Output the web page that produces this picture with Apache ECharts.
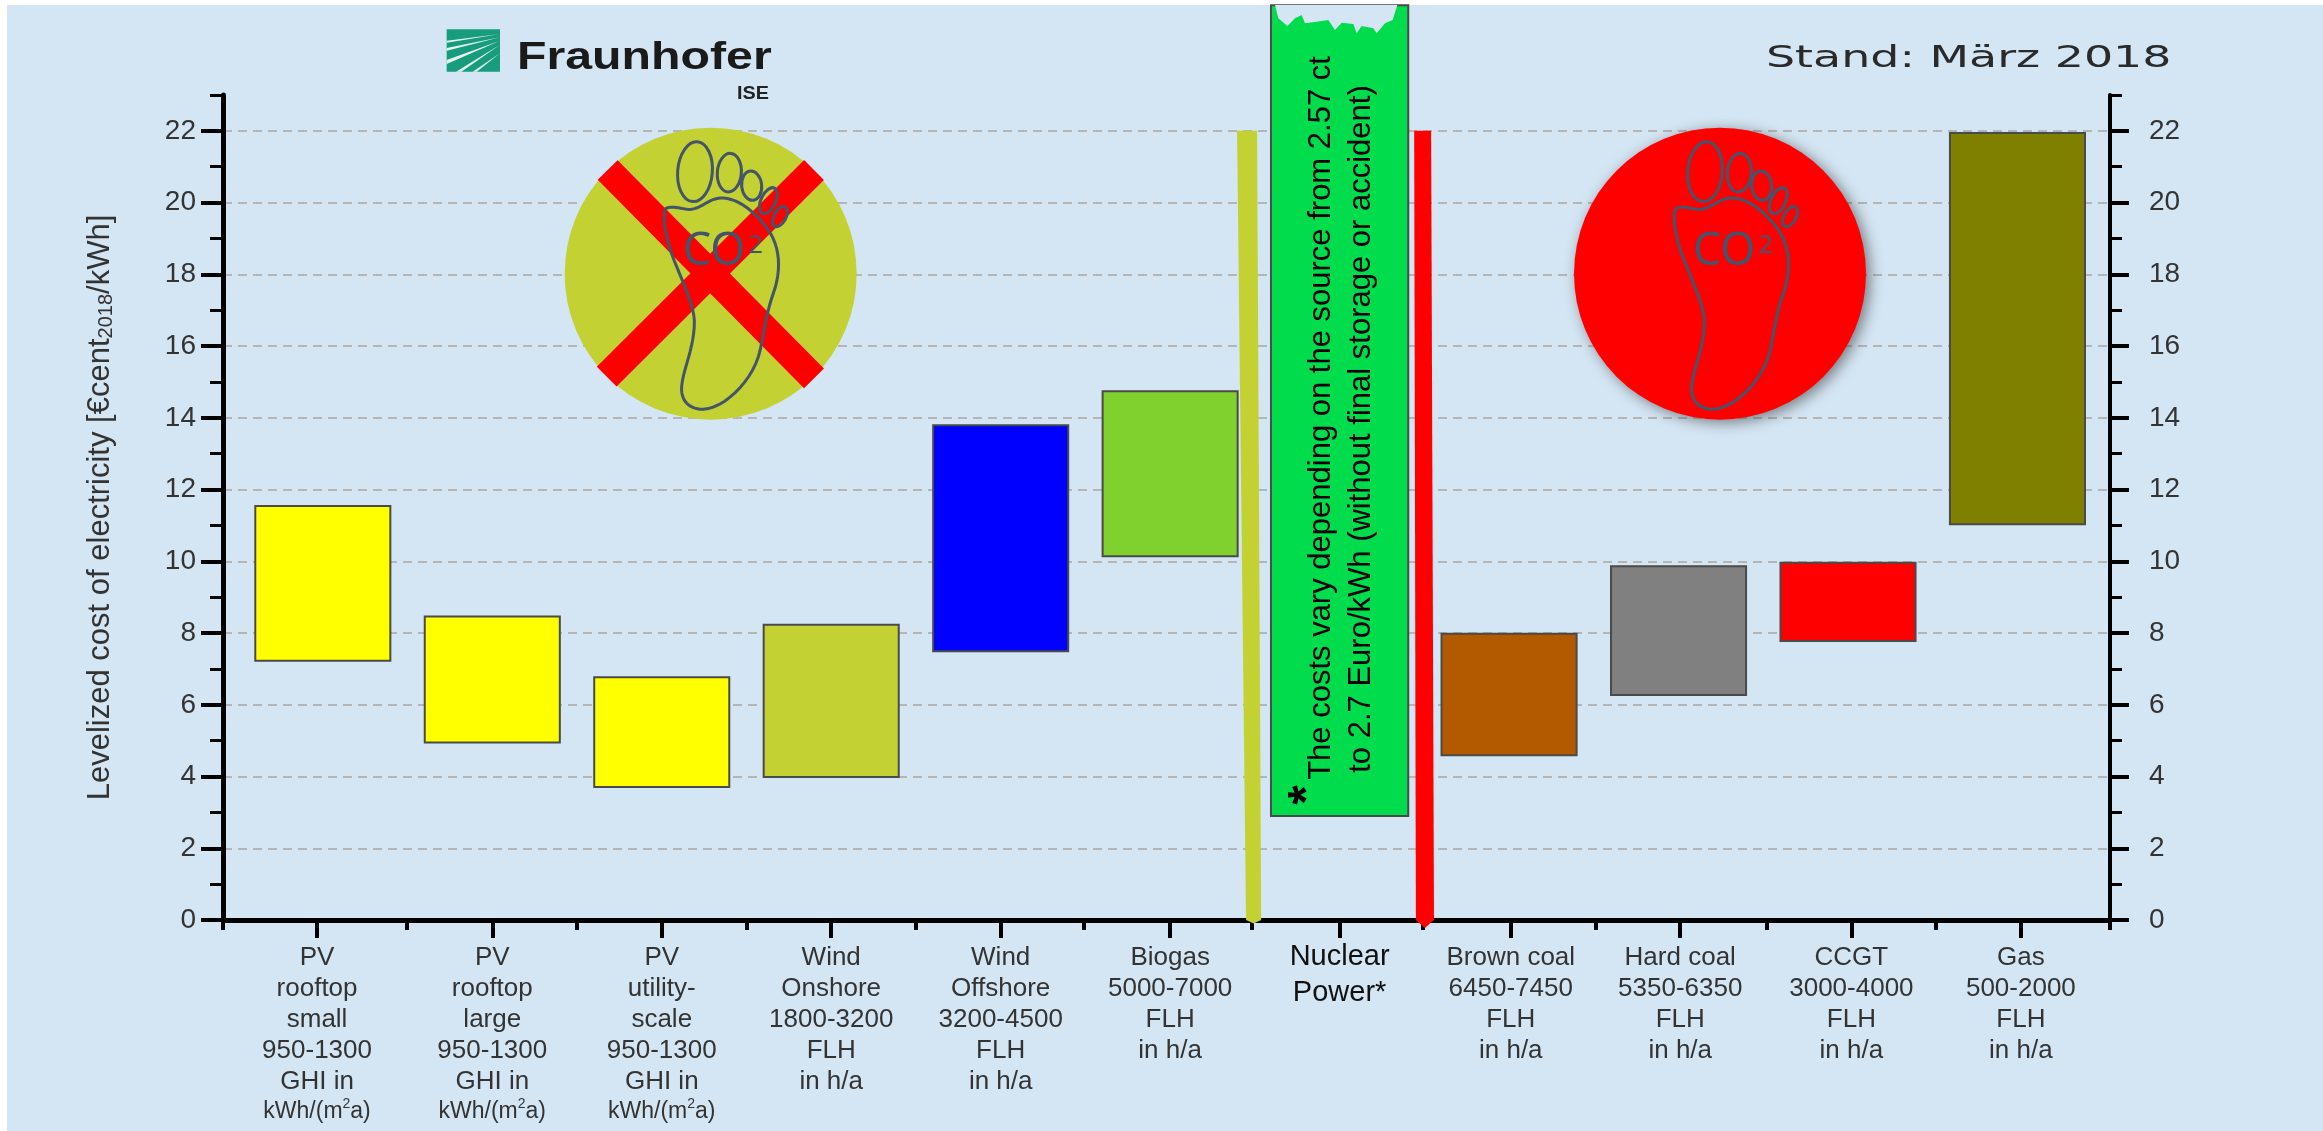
<!DOCTYPE html>
<html>
<head>
<meta charset="utf-8">
<title>Levelized cost of electricity 2018</title>
<script src="https://cdn.jsdelivr.net/npm/echarts@6/dist/echarts.min.js"></script>
<style>
  html, body { margin: 0; padding: 0; background: #ffffff; overflow: hidden; }
  #panel { position: absolute; left: 7px; top: 5px; right: 0; bottom: 0; background: #d4e5f3; }
  #chart { position: absolute; left: 0; top: 0; width: 2323px; height: 1131px; }
</style>
</head>
<body>
<div id="panel"></div>
<div id="chart"></div>
<script>
// Technologies along the horizontal axis
const categories = [
  'PV\nrooftop\nsmall\n950-1300\nGHI in\n{u|kWh/(m}{s|2}{u|a)}',
  'PV\nrooftop\nlarge\n950-1300\nGHI in\n{u|kWh/(m}{s|2}{u|a)}',
  'PV\nutility-\nscale\n950-1300\nGHI in\n{u|kWh/(m}{s|2}{u|a)}',
  'Wind\nOnshore\n1800-3200\nFLH\nin h/a',
  'Wind\nOffshore\n3200-4500\nFLH\nin h/a',
  'Biogas\n5000-7000\nFLH\nin h/a',
  '{n1|Nuclear}\n{n2|Power*}',
  'Brown coal\n6450-7450\nFLH\nin h/a',
  'Hard coal\n5350-6350\nFLH\nin h/a',
  'CCGT\n3000-4000\nFLH\nin h/a',
  'Gas\n500-2000\nFLH\nin h/a'
];

// Cost range of each technology in euro cents per kWh
const lowValues  = [7.23, 4.95, 3.71, 3.99, 7.49, 10.14, 2.90, 4.59, 6.27, 7.78, 11.03];
const highValues = [11.54, 8.46, 6.77, 8.23, 13.79, 14.74, 25.5, 7.98, 9.86, 9.96, 21.94];
const barColors  = ['#ffff00', '#ffff00', '#ffff00', '#c3d133', '#0000ff', '#80d02e',
                    '#00dc4b', '#b35a00', '#808080', '#ff0000', '#808000'];

const majorLeftTicks = [0, 2, 4, 6, 8, 10, 12, 14, 16, 18, 20, 22];
const minorLeftTicks = [1, 3, 5, 7, 9, 11, 13, 15, 17, 19, 21, 23];
const categoryTicks  = [-0.034, 1, 2, 3, 4, 5, 6, 7.01, 8.01, 9.02, 10.02];
const boundaryTicks  = [-0.589, 0.497, 1.496, 2.5, 3.496, 4.49, 5.48, 6.49, 7.51, 8.52, 9.52, 10.546];

// Divider strips between the low-carbon group, nuclear and the fossil group
const dividerTopEdges    = [[5.395, 5.513], [6.44, 6.54]];
const dividerBottomEdges = [[5.448, 5.537], [6.45, 6.557]];
const dividerColors      = ['#c3d133', '#ff0000'];
const dividerTop = 22;
const dividerTips = [-0.1, -0.22];

const INK = '#333333';
const FOOT = '#44546a';
const PANEL = '#d4e5f3';

// Flattens a chain of cubic segments into polygon vertices
function flatten(start, segments) {
  const pts = [start];
  let p0 = start;
  segments.forEach(([c1, c2, p3]) => {
    for (let k = 1; k <= 12; k++) {
      const t = k / 12, u = 1 - t;
      pts.push([
        u * u * u * p0[0] + 3 * u * u * t * c1[0] + 3 * u * t * t * c2[0] + t * t * t * p3[0],
        u * u * u * p0[1] + 3 * u * u * t * c1[1] + 3 * u * t * t * c2[1] + t * t * t * p3[1]
      ]);
    }
    p0 = p3;
  });
  return pts;
}

const soleOutline = flatten([318, 265], [
  [[340, 255], [370, 270], [395, 268]],
  [[430, 262], [450, 232], [490, 234]],
  [[540, 238], [590, 280], [625, 330]],
  [[660, 380], [665, 450], [640, 520]],
  [[615, 590], [610, 660], [595, 710]],
  [[570, 790], [490, 865], [430, 868]],
  [[385, 868], [362, 840], [365, 800]],
  [[368, 750], [405, 680], [403, 600]],
  [[400, 540], [340, 430], [325, 370]],
  [[312, 320], [308, 280], [318, 265]]
]);

// Footprint with the CO2 label, drawn at 3x and scaled down by its group
function footprint() {
  const line = { stroke: FOOT, lineWidth: 9, fill: 'none' };
  const toe = (x, y, rx, ry, rot) => ({
    type: 'ellipse', x, y, rotation: rot, shape: { cx: 0, cy: 0, rx, ry }, style: line
  });
  return [
    { type: 'polygon', shape: { points: soleOutline }, style: line },
    toe(405, 155, 52, 90, -0.08),
    toe(508, 158, 36, 58, -0.08),
    toe(575, 197, 30, 44, 0.1),
    toe(625, 242, 22, 42, -0.45),
    toe(660, 290, 18, 33, -0.5),
    { type: 'text', style: { text: 'CO', x: 462, y: 398, align: 'center', verticalAlign: 'middle',
        font: '135px "Noto Sans"', fill: FOOT } },
    { type: 'text', style: { text: '2', x: 587, y: 378, align: 'center', verticalAlign: 'middle',
        font: '76px "Noto Sans"', fill: FOOT } }
  ];
}

const crossColor = '#ff0000';
const graphicElements = [
  // Low-carbon badge: crossed-out footprint
  {
    type: 'group', x: 560, y: 120, scaleX: 1 / 3, scaleY: 1 / 3,
    children: [
      { type: 'circle', shape: { cx: 452, cy: 461, r: 438 }, style: { fill: '#c3d133' } },
      { type: 'line', shape: { x1: 143, y1: 150, x2: 762, y2: 775 }, style: { stroke: crossColor, lineWidth: 84 } },
      { type: 'line', shape: { x1: 140, y1: 770, x2: 762, y2: 150 }, style: { stroke: crossColor, lineWidth: 84 } }
    ].concat(footprint())
  },
  // Fossil badge: plain footprint on red
  {
    type: 'group', x: 1570, y: 120, scaleX: 1 / 3, scaleY: 1 / 3,
    children: [
      { type: 'circle', shape: { cx: 450, cy: 461, r: 438 },
        style: { fill: '#ff0000', shadowBlur: 14, shadowColor: 'rgba(40,40,40,0.55)', shadowOffsetX: 4, shadowOffsetY: 3 } }
    ].concat(footprint())
  },
  // Institute logo
  {
    type: 'group', x: 430, y: 20, scaleX: 1 / 3, scaleY: 1 / 3,
    children: [
      { type: 'rect', shape: { x: 50, y: 28, width: 160, height: 127 }, style: { fill: '#179c7d' } },
      { type: 'polygon', shape: { points: [[210, 42], [50, 62], [50, 68]] }, style: { fill: '#e6f3ef' } },
      { type: 'polygon', shape: { points: [[210, 52], [50, 84], [50, 92]] }, style: { fill: '#e6f3ef' } },
      { type: 'polygon', shape: { points: [[210, 62], [50, 120], [50, 132]] }, style: { fill: '#e6f3ef' } },
      { type: 'polygon', shape: { points: [[210, 74], [78, 155], [94, 155]] }, style: { fill: '#e6f3ef' } },
      { type: 'polygon', shape: { points: [[210, 100], [128, 155], [140, 155]] }, style: { fill: '#e6f3ef' } }
    ]
  },
  { type: 'text', x: 517, y: 59, scaleX: 1.27,
    style: { text: 'Fraunhofer', align: 'left', verticalAlign: 'middle', font: 'bold 38px "Liberation Sans"', fill: '#1a1a1a' } },
  { type: 'text', x: 737, y: 94, scaleX: 1.1,
    style: { text: 'ISE', align: 'left', verticalAlign: 'middle', font: 'bold 18px "Liberation Sans"', fill: '#222222' } },
  { type: 'text', x: 1766, y: 59, scaleX: 1.48,
    style: { text: 'Stand: März 2018', align: 'left', verticalAlign: 'middle', font: '31px "DejaVu Sans"', fill: '#2a2a2a' } },
  // Frayed upper edge of the nuclear bar
  {
    type: 'group', x: 1200, y: 0, scaleX: 1 / 3, scaleY: 1 / 3,
    children: [{
      type: 'polygon',
      shape: { points: [[225, 15], [235, 55], [262, 78], [285, 55], [305, 45], [315, 70], [350, 65], [385, 60],
        [405, 90], [425, 68], [460, 72], [470, 100], [485, 78], [520, 85], [530, 100], [555, 70], [578, 60], [592, 15]] },
      style: { fill: PANEL }
    }]
  },
  // Note running up the nuclear bar
  { type: 'text', x: 1321, y: 418, rotation: Math.PI / 2,
    style: { text: 'The costs vary depending on the source from 2.57 ct', align: 'center', verticalAlign: 'middle',
      font: '31px "Liberation Sans"', fill: '#000000' } },
  { type: 'text', x: 1361, y: 429, rotation: Math.PI / 2,
    style: { text: 'to 2.7 Euro/kWh (without final storage or accident)', align: 'center', verticalAlign: 'middle',
      font: '31px "Liberation Sans"', fill: '#000000' } },
  { type: 'text', x: 1309, y: 795, rotation: Math.PI / 2,
    style: { text: '*', align: 'center', verticalAlign: 'middle', font: 'bold 50px "Liberation Sans"', fill: '#000000' } }
];

// Lifts every decoration above the series, group children included
function raise(el) {
  el.z = 20;
  (el.children || []).forEach(raise);
}
graphicElements.forEach(raise);

const xRange = { min: -0.589, max: 10.546 };
const yRange = { min: 0, max: 23 };

const barRows = categories.map((c, i) => [i, lowValues[i], highValues[i]]);
const dividerRows = dividerColors.map((c, i) => [i]);

const option = {
  animation: false,
  backgroundColor: 'transparent',
  grid: { left: 223, right: 213, top: 95, bottom: 211 },
  textStyle: { fontFamily: '"Liberation Sans"' },
  xAxis: [
    {
      type: 'value', ...xRange, position: 'bottom', splitLine: { show: false },
      axisLine: { onZero: false, lineStyle: { color: '#000', width: 5 } },
      axisTick: { length: 18, customValues: categoryTicks, lineStyle: { color: '#000', width: 4 } },
      axisLabel: {
        customValues: categoryTicks, margin: 22, color: INK, fontSize: 26, lineHeight: 31,
        showMinLabel: true, showMaxLabel: true, hideOverlap: false, align: 'center', verticalAlign: 'top',
        formatter: v => categories[Math.round(v)] || '',
        rich: {
          u: { fontSize: 23, lineHeight: 29, color: INK },
          s: { fontSize: 14, lineHeight: 29, color: INK, verticalAlign: 'top', padding: [0, 0, 8, 0] },
          n1: { fontSize: 29, lineHeight: 29, color: '#111111' },
          n2: { fontSize: 29, lineHeight: 44, color: '#111111' }
        }
      }
    },
    {
      type: 'value', ...xRange, position: 'bottom', splitLine: { show: false },
      axisLine: { show: false, onZero: false },
      axisTick: { length: 10, customValues: boundaryTicks, lineStyle: { color: '#000', width: 4 } },
      axisLabel: { show: false }
    }
  ],
  yAxis: [
    {
      type: 'value', ...yRange, position: 'left',
      axisLine: { show: true, onZero: false, lineStyle: { color: '#000', width: 5 } },
      axisTick: { show: true, length: 22, customValues: majorLeftTicks, lineStyle: { color: '#000', width: 4 } },
      axisLabel: { customValues: majorLeftTicks, margin: 27, color: INK, fontSize: 28 },
      splitLine: { show: true, lineStyle: { color: '#b5b5b5', width: 2, type: [9, 6] } },
      name: '{t|Levelized cost of electricity [€cent}{b|2018}{t|/kWh]}',
      nameLocation: 'middle', nameGap: 107, nameRotate: 90,
      nameTextStyle: {
        rich: {
          t: { fontSize: 31, color: INK },
          b: { fontSize: 20, color: INK, verticalAlign: 'bottom', padding: [11, 0, 0, 0] }
        }
      }
    },
    {
      type: 'value', ...yRange, position: 'left', splitLine: { show: false },
      axisLine: { show: false, onZero: false },
      axisTick: { show: true, length: 13, customValues: minorLeftTicks, lineStyle: { color: '#000', width: 3 } },
      axisLabel: { show: false }
    },
    {
      type: 'value', ...yRange, position: 'right', splitLine: { show: false },
      axisLine: { show: true, onZero: false, lineStyle: { color: '#000', width: 4 } },
      axisTick: { show: true, length: 19, customValues: majorLeftTicks, lineStyle: { color: '#000', width: 4 } },
      axisLabel: { customValues: majorLeftTicks, margin: 39, color: INK, fontSize: 28 }
    },
    {
      type: 'value', ...yRange, position: 'right', splitLine: { show: false },
      axisLine: { show: false, onZero: false },
      axisTick: { show: true, length: 12, customValues: minorLeftTicks, lineStyle: { color: '#000', width: 3 } },
      axisLabel: { show: false }
    }
  ],
  series: [
    {
      // Floating cost-range bars
      type: 'custom', xAxisIndex: 0, yAxisIndex: 0, clip: false, z: 3,
      data: barRows,
      renderItem(params, api) {
        const i = api.value(0);
        const wide = categories[i].indexOf('Nuclear') >= 0 ? 0.81 : 0.797;
        const bottom = api.coord([i, api.value(1)]);
        const top = api.coord([i, api.value(2)]);
        const w = api.size([wide, 0])[0];
        return {
          type: 'rect',
          shape: { x: bottom[0] - w / 2, y: top[1], width: w, height: bottom[1] - top[1] },
          style: { fill: barColors[i], stroke: '#4a4a4a', lineWidth: 2 }
        };
      }
    },
    {
      // Vertical divider strips, running slightly past the baseline
      type: 'custom', xAxisIndex: 0, yAxisIndex: 0, clip: false, z: 4,
      data: dividerRows,
      renderItem(params, api) {
        const i = api.value(0);
        const [tl, tr] = dividerTopEdges[i];
        const [bl, br] = dividerBottomEdges[i];
        const tip = dividerTips[i];
        return {
          type: 'polygon',
          shape: { points: [
            api.coord([tl, dividerTop]), api.coord([tr, dividerTop]),
            api.coord([br, 0]), api.coord([(bl + br) / 2, tip]), api.coord([bl, 0])
          ] },
          style: { fill: dividerColors[i] }
        };
      }
    }
  ],
  graphic: { elements: graphicElements }
};

const chart = echarts.init(document.getElementById('chart'), null, { renderer: 'canvas', width: 2323, height: 1131 });
chart.setOption(option);
</script>
</body>
</html>
